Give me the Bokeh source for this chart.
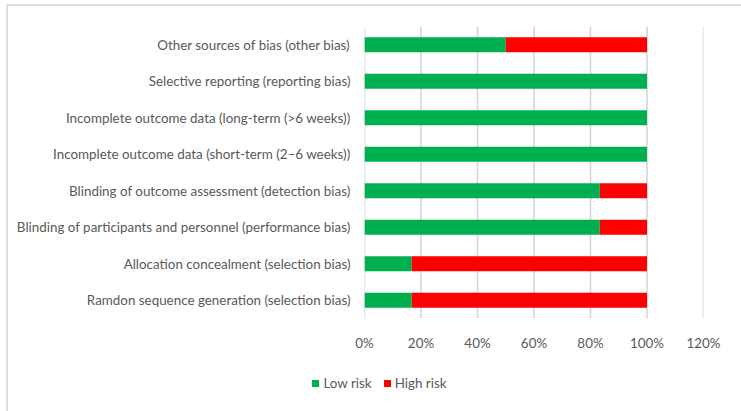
from bokeh.plotting import figure
from bokeh.layouts import column
from bokeh.models import FactorRange, NumeralTickFormatter, FixedTicker, Div
from bokeh.embed import file_html
from bokeh.resources import INLINE

categories = [
    "Ramdon sequence generation (selection bias)",
    "Allocation concealment (selection bias)",
    "Blinding of participants and personnel (performance bias)",
    "Blinding of outcome assessment (detection bias)",
    "Incomplete outcome data (short-term (2\u20136 weeks))",
    "Incomplete outcome data (long-term (>6 weeks))",
    "Selective reporting (reporting bias)",
    "Other sources of bias (other bias)",
]
low_risk = [0.167, 0.167, 0.833, 0.833, 1.0, 1.0, 1.0, 0.5]
high_risk = [0.833, 0.833, 0.167, 0.167, 0.0, 0.0, 0.0, 0.5]
x_ticks = [0, 0.2, 0.4, 0.6, 0.8, 1.0, 1.2]
series_names = ["Low risk", "High risk"]
series_colors = ["#00B050", "#FF0000"]

FONT = "Lato"
GRAY = "#595959"
FS = "13.4px"

p = figure(
    frame_width=339, frame_height=292,
    y_range=FactorRange(factors=categories, range_padding=0),
    x_range=(0, 1.2),
    output_backend="svg", toolbar_location=None,
    min_border_left=356, min_border_right=32, min_border_top=20, min_border_bottom=34,
)
p.background_fill_color = None
p.border_fill_color = None

# vertical gridlines, drawn first so that the bars cover them
p.segment(x0=x_ticks, x1=x_ticks,
          y0=[(categories[0], -0.5)] * len(x_ticks),
          y1=[(categories[-1], 0.5)] * len(x_ticks),
          line_color="#D6D6D6", line_width=1.6)

source = dict(cat=categories, low=low_risk, high=high_risk)
rs = p.hbar_stack(["low", "high"], y="cat", height=0.41, source=source,
                  color=series_colors, line_color=None)

p.outline_line_color = None
p.ygrid.grid_line_color = None
p.xgrid.grid_line_color = None
p.xaxis.ticker = FixedTicker(ticks=x_ticks)
p.xaxis.formatter = NumeralTickFormatter(format="0%")
for ax in (p.xaxis, p.yaxis):
    ax.axis_line_color = None
    ax.major_tick_line_color = None
    ax.minor_tick_line_color = None
    ax.major_label_text_font = FONT
    ax.major_label_text_font_size = FS
    ax.major_label_text_color = GRAY
p.yaxis.major_tick_out = 0
p.yaxis.major_tick_in = 0
p.xaxis.major_label_standoff = 10
p.yaxis.major_label_standoff = 14

# legend strip below the chart
parts = []
for i, (name, col) in enumerate(zip(series_names, series_colors)):
    gap = "0" if i == 0 else "12px"
    parts.append(
        f'<span style="display:inline-flex;align-items:center;margin-left:{gap};">'
        f'<span style="display:inline-block;width:7px;height:7px;background:{col};'
        f'margin-right:4px;"></span>{name}</span>'
    )
legend_html = (
    f'<div style="display:flex;justify-content:center;align-items:center;'
    f'width:727px;height:50px;box-sizing:border-box;padding-left:6px;padding-top:2px;'
    f'font-family:{FONT};font-size:{FS};color:{GRAY};">' + "".join(parts) + "</div>"
)
lg = Div(text=legend_html, width=727, height=50)

layout = column(p, lg, spacing=0)
layout.styles = {"border": "2px solid #DCDCDC", "border-radius": "2px",
                 "margin-left": "6px", "margin-top": "4px", "background": "white"}

open("out.html", "w").write(file_html(layout, INLINE))
